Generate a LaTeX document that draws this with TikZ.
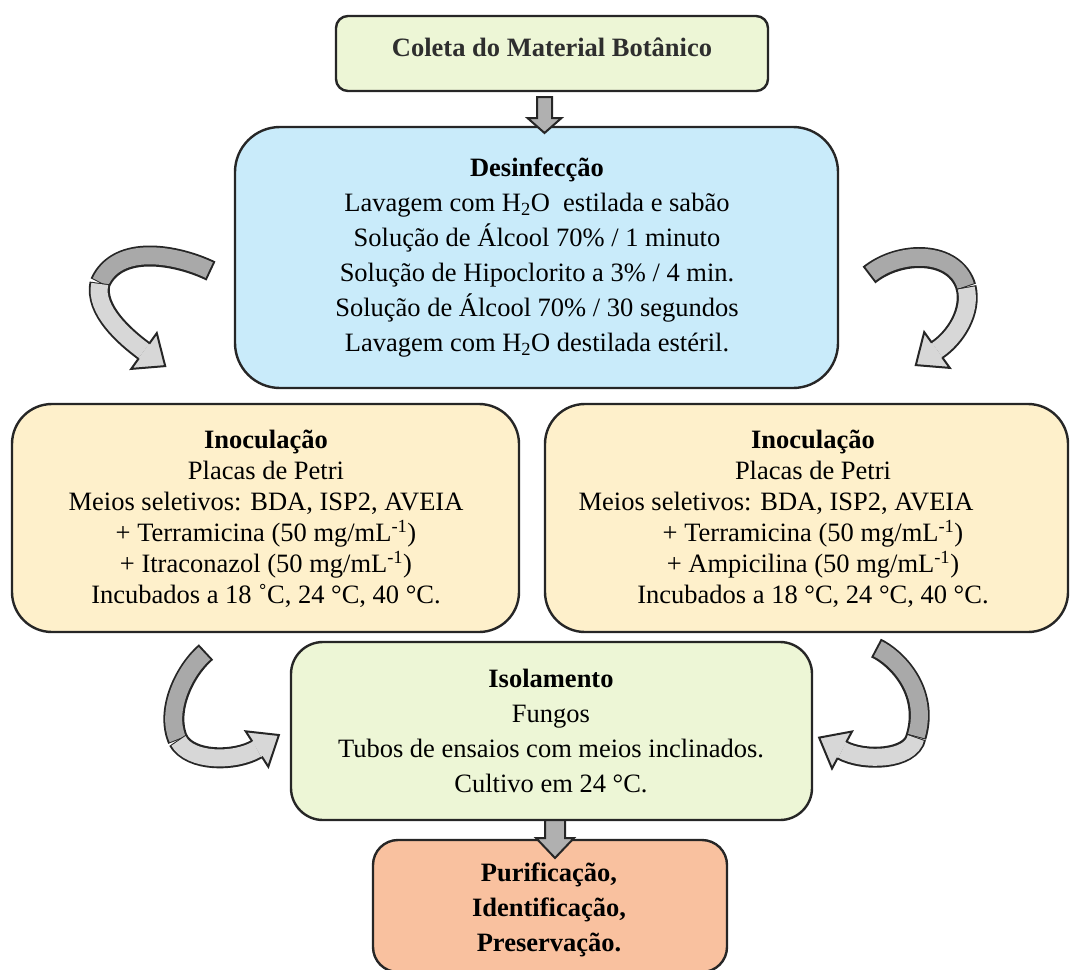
\documentclass[tikz,border=0pt]{standalone}
\usepackage{fontspec}
\setmainfont{Liberation Serif}
\usetikzlibrary{calc}
\definecolor{outl}{HTML}{262626}
\definecolor{greenf}{HTML}{EDF6D6}
\definecolor{bluef}{HTML}{C9EBFA}
\definecolor{yellf}{HTML}{FEF0CB}
\definecolor{salmf}{HTML}{F9C19F}
\definecolor{darkg}{HTML}{A9A9A9}
\definecolor{lightg}{HTML}{D7D7D7}
\definecolor{arrg}{HTML}{B0B0B0}
\definecolor{coltext}{HTML}{2E2E2E}
\begin{document}
\begin{tikzpicture}[x=1pt,y=-1pt,
  box/.style={draw=outl, line width=2.4pt, inner sep=0pt, rectangle},
  txt/.style={align=center, inner sep=0pt, font=\fontsize{26.5}{35}\selectfont},
  txtn/.style={align=center, inner sep=0pt, font=\fontsize{26.5}{31}\selectfont},
  sarrow/.style={draw=outl, fill=arrg, line width=2pt, line join=miter},
  bandout/.style={draw=outl, line width=21pt, line cap=butt},
  banddark/.style={draw=darkg, line width=17pt, line cap=butt},
  bandlight/.style={draw=lightg, line width=17pt, line cap=butt},
  headl/.style={fill=lightg, draw=outl, line width=2pt, line join=miter},
]
\useasboundingbox (0,0) rectangle (1070,969);

% boxes
\node[box, fill=greenf, rounded corners=12pt, minimum width=432pt, minimum height=75pt] (coleta) at (552,53.5) {};
\node[box, fill=bluef, rounded corners=45pt, minimum width=603pt, minimum height=261pt] (desinf) at (536.5,257.5) {};
\node[box, fill=yellf, rounded corners=40pt, minimum width=507pt, minimum height=228pt] (inocl) at (265.5,518) {};
\node[box, fill=yellf, rounded corners=40pt, minimum width=523pt, minimum height=228pt] (inocr) at (806.5,518) {};
\node[box, fill=greenf, rounded corners=32pt, minimum width=521pt, minimum height=178pt] (isol) at (551.5,731) {};
\node[box, fill=salmf, rounded corners=25pt, minimum width=354pt, minimum height=132pt] (final) at (550,906) {};

% texts
\node[align=center, inner sep=0pt, text=coltext, font=\fontsize{26.5}{35}\selectfont\bfseries] (coletat) at (552,47) {Coleta do Material Botânico};
\node[txt] (desinft) at (537,258) {\textbf{Desinfecção}\\Lavagem com H\textsubscript{2}O\ \ estilada e sabão\\Solução de Álcool 70\% / 1 minuto\\Solução de Hipoclorito a 3\% / 4 min.\\Solução de Álcool 70\% / 30 segundos\\Lavagem com H\textsubscript{2}O destilada estéril.};
\node[txtn] (inoclt) at (266,518.5) {\textbf{Inoculação}\\Placas de Petri\\Meios seletivos: BDA, ISP2, AVEIA\\+ Terramicina (50 mg/mL\textsuperscript{-1})\\+ Itraconazol (50 mg/mL\textsuperscript{-1})\\Incubados a 18 ˚C, 24 °C, 40 °C.};
\node[txtn] (inocrt) at (813,518.5) {\textbf{Inoculação}\\Placas de Petri\\\hspace*{-74pt}Meios seletivos: BDA, ISP2, AVEIA\\+ Terramicina (50 mg/mL\textsuperscript{-1})\\+ Ampicilina (50 mg/mL\textsuperscript{-1})\\Incubados a 18 °C, 24 °C, 40 °C.};
\node[txt] (isolt) at (551,731) {\textbf{Isolamento}\\Fungos\\Tubos de ensaios com meios inclinados.\\Cultivo em 24 °C.};
\node[txt, font=\fontsize{26.5}{35}\selectfont\bfseries] (finalt) at (549,909.5) {Purificação,\\Identificação,\\Preservação.};

% straight arrows
\coordinate (s1) at (544.5,97);
\draw[sarrow] (s1) ++(-7.5,0) -- ++(15,0) -- ++(0,21) -- ++(9.5,0) -- ++(-17,15) -- ++(-17,-15) -- ++(9.5,0) -- cycle;
\coordinate (s2) at (555,820);
\draw[sarrow] (s2) ++(-10,0) -- ++(20,0) -- ++(0,18) -- ++(9,0) -- ++(-19,20) -- ++(-19,-20) -- ++(9,0) -- cycle;

% curved arrow 1 (top left)
\coordinate (a1t) at (211,271); \coordinate (a1j) at (100,283); \coordinate (a1h) at (144,351);
\draw[bandout] (a1t) .. controls (178,255) and (118,243) .. (a1j);
\draw[banddark, shorten <=2pt, shorten >=1pt] (a1t) .. controls (178,255) and (118,243) .. (a1j);
\draw[bandout] (a1j) .. controls (94,310) and (125,337) .. (a1h);
\draw[bandlight, shorten <=1pt] (a1j) .. controls (94,310) and (125,337) .. (a1h);
\filldraw[headl] (138.8,358.3) -- (131.2,368.9) -- (165.2,366.1) -- (156.8,333.1) -- (149.2,343.7);

% curved arrow 2 (top right)
\coordinate (a2t) at (869,275); \coordinate (a2j) at (966,287); \coordinate (a2h) at (937,350);
\draw[bandout] (a2t) .. controls (900,250) and (955,250) .. (a2j);
\draw[banddark, shorten <=2pt, shorten >=1pt] (a2t) .. controls (900,250) and (955,250) .. (a2j);
\draw[bandout] (a2j) .. controls (972,312) and (955,338) .. (a2h);
\draw[bandlight, shorten <=1pt] (a2j) .. controls (972,312) and (955,338) .. (a2h);
\filldraw[headl] (942.2,357.3) -- (949.8,367.9) -- (915.8,365.1) -- (924.2,332.1) -- (931.8,342.7);

% curved arrow 3 (bottom left)
\coordinate (a3t) at (206,652); \coordinate (a3j) at (178,740); \coordinate (a3h) at (257,749);
\draw[bandout] (a3t) .. controls (185,670) and (165,710) .. (a3j);
\draw[banddark, shorten <=2pt, shorten >=1pt] (a3t) .. controls (185,670) and (165,710) .. (a3j);
\draw[bandout] (a3j) .. controls (190,762) and (235,762) .. (a3h);
\draw[bandlight, shorten <=1pt] (a3j) .. controls (190,762) and (235,762) .. (a3h);
\filldraw[headl] (261.8,756.6) -- (268.3,766.7) -- (278.9,735) -- (245.7,731.3) -- (252.2,741.4);

% curved arrow 4 (bottom right)
\coordinate (a4t) at (876,648); \coordinate (a4j) at (916,737); \coordinate (a4h) at (842,750);
\draw[bandout] (a4t) .. controls (895,657) and (930,690) .. (a4j);
\draw[banddark, shorten <=2pt, shorten >=1pt] (a4t) .. controls (895,657) and (930,690) .. (a4j);
\draw[bandout] (a4j) .. controls (911,760) and (864,762) .. (a4h);
\draw[bandlight, shorten <=1pt] (a4j) .. controls (911,760) and (864,762) .. (a4h);
\filldraw[headl] (837.7,757.9) -- (832,768.5) -- (819.1,737.6) -- (852,731.5) -- (846.3,742.1);
\end{tikzpicture}
\end{document}
